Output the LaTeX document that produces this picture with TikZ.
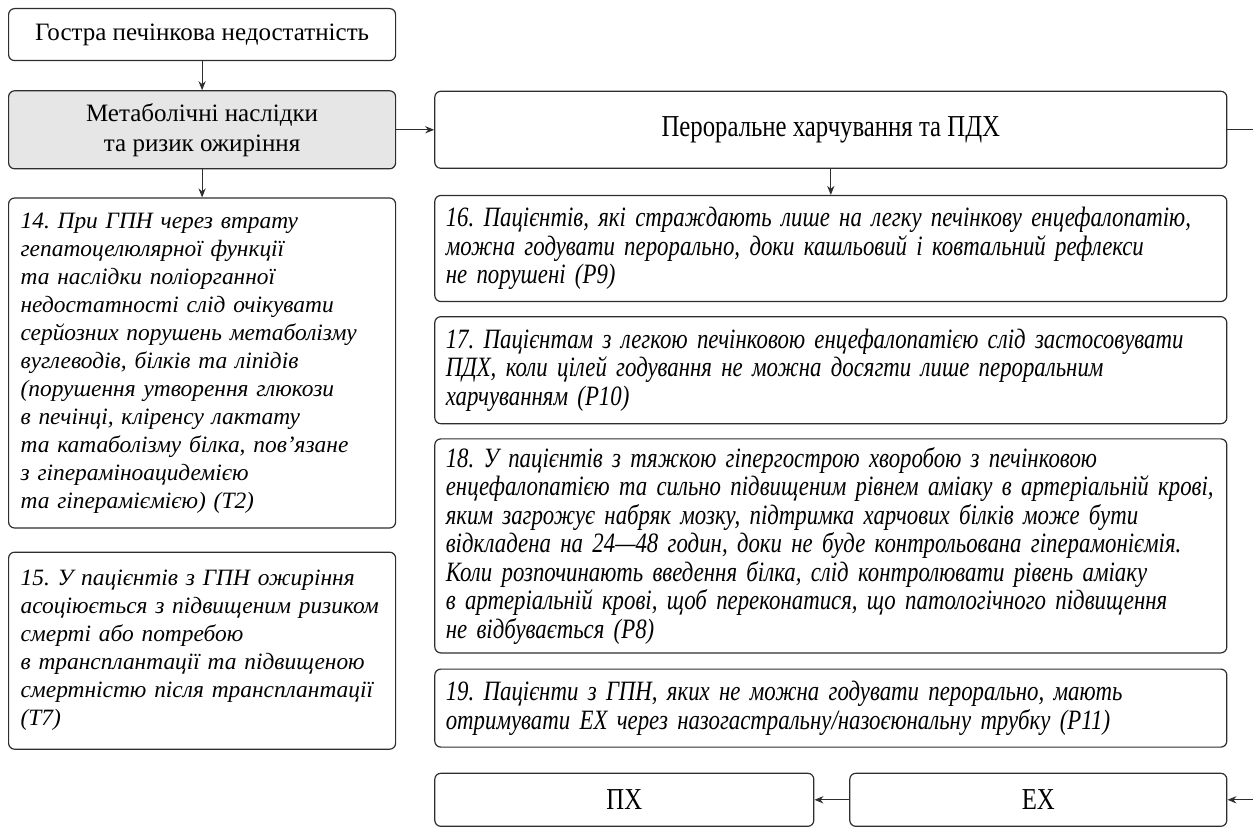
\documentclass[tikz,border=0pt]{standalone}
\usepackage{fontspec}
\setmainfont{Liberation Serif}
\newfontfamily\narrowfont[FakeStretch=0.815]{Liberation Serif}
\usetikzlibrary{arrows.meta,positioning}
\definecolor{fline}{HTML}{2E2E2E}
\definecolor{fgrey}{HTML}{E6E6E6}
\frenchspacing

\begin{document}
\begin{tikzpicture}[
  line width=0.6pt,
  hd/.style={draw=fline,fill=white,rounded corners=3pt,align=center,inner sep=0pt,
             font=\fontsize{12.5}{15}\selectfont},
  hdn/.style={hd,font=\narrowfont\fontsize{15.2}{17}\selectfont},
  lt/.style={draw=fline,rounded corners=3pt,align=left,inner xsep=6pt,inner ysep=0pt,
             text width=181.5pt,font=\fontsize{11.7}{14}\selectfont\itshape},
  rt/.style={draw=fline,rounded corners=3pt,align=left,inner xsep=5.5pt,inner ysep=0pt,
             text width=385pt,font=\narrowfont\fontsize{14}{14.25}\selectfont\itshape},
  arr/.style={-{Stealth[length=4.5pt,width=3.6pt]},draw=fline}]

  \useasboundingbox (0,0) rectangle (626.5pt,-414pt);

  % left column
  \node[hd,anchor=north west,minimum width=193.5pt,minimum height=26pt] (gpn) at (4pt,-4pt)
    {Гостра печінкова недостатність};
  \node[hd,fill=fgrey,below=14.5pt of gpn,minimum width=193.5pt,minimum height=39pt] (meta)
    {Метаболічні наслідки\\та ризик ожиріння};
  \node[lt,below=14pt of meta,minimum height=165pt] (b14)
    {14. При ГПН через втрату\\
     гепатоцелюлярної функції\\
     та наслідки поліорганної\\
     недостатності слід очікувати\\
     серйозних порушень метаболізму\\
     вуглеводів, білків та ліпідів\\
     (порушення утворення глюкози\\
     в печінці, кліренсу лактату\\
     та катаболізму білка, пов’язане\\
     з гіпераміноацидемією\\
     та гіпераміємією) (Т2)};
  \node[lt,below=11.5pt of b14,minimum height=98.5pt] (b15)
    {15. У пацієнтів з ГПН ожиріння\\
     асоціюється з підвищеним ризиком\\
     смерті або потребою\\
     в трансплантації та підвищеною\\
     смертністю після трансплантації\\
     (Т7)};

  % right column
  \node[hdn,right=19pt of meta,minimum width=396pt,minimum height=38.5pt] (oral)
    {Пероральне харчування та ПДХ};
  \node[rt,below=13pt of oral,minimum height=53pt] (b16)
    {16. Пацієнтів, які страждають лише на легку печінкову енцефалопатію,\\
     можна годувати перорально, доки кашльовий і ковтальний рефлекси\\
     не порушені (Р9)};
  \node[rt,below=7pt of b16,minimum height=53.5pt] (b17)
    {17. Пацієнтам з легкою печінковою енцефалопатією слід застосовувати\\
     ПДХ, коли цілей годування не можна досягти лише пероральним\\
     харчуванням (Р10)};
  \node[rt,below=7pt of b17,minimum height=107pt] (b18)
    {18. У пацієнтів з тяжкою гіпергострою хворобою з печінковою\\
     енцефалопатією та сильно підвищеним рівнем аміаку в артеріальній крові,\\
     яким загрожує набряк мозку, підтримка харчових білків може бути\\
     відкладена на 24—48 годин, доки не буде контрольована гіперамоніємія.\\
     Коли розпочинають введення білка, слід контролювати рівень аміаку\\
     в артеріальній крові, щоб переконатися, що патологічного підвищення\\
     не відбувається (Р8)};
  \node[rt,below=7.5pt of b18,minimum height=39pt] (b19)
    {19. Пацієнти з ГПН, яких не можна годувати перорально, мають\\
     отримувати ЕХ через назогастральну/назоєюнальну трубку (Р11)};
  \node[hdn,below=12.5pt of b19.south west,anchor=north west,minimum width=189.5pt,
        minimum height=26.5pt] (px) {ПХ};
  \node[hdn,below=12.5pt of b19.south east,anchor=north east,minimum width=188.5pt,
        minimum height=26.5pt] (ex) {ЕХ};

  \draw[arr] (gpn)--(meta); \draw[arr] (meta)--(b14);
  \draw[arr] (meta)--(oral); \draw[arr] (oral)--(b16);
  \draw[arr] (ex)--(px);
  \draw[arr] (oral.east) -- ++(13pt,0) |- (ex.east);
\end{tikzpicture}
\end{document}
